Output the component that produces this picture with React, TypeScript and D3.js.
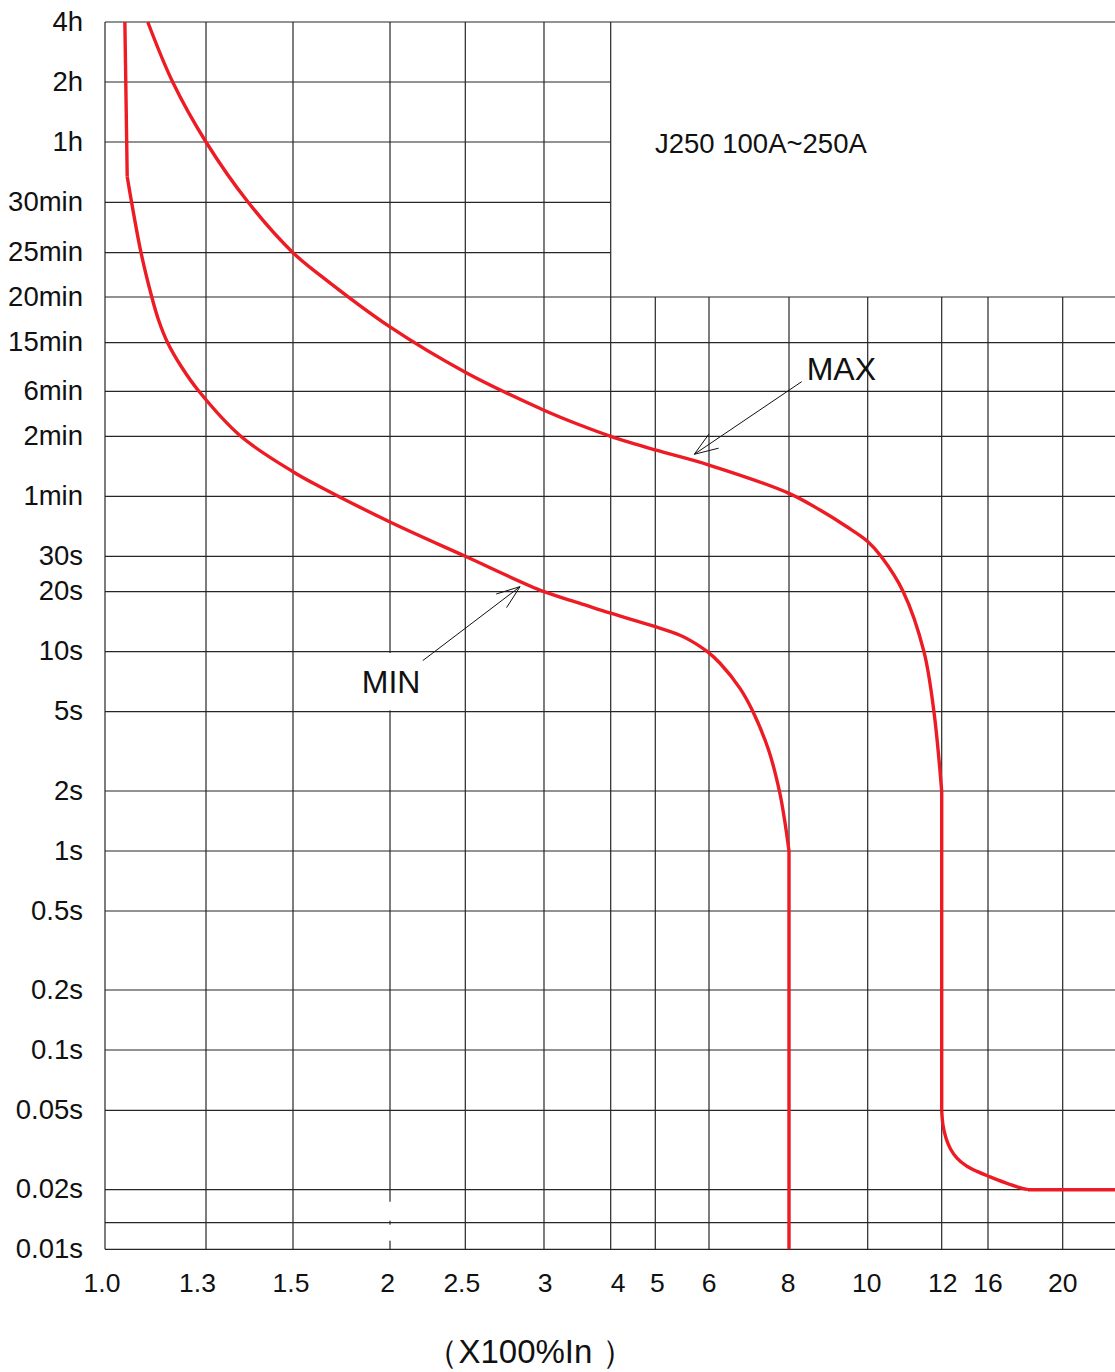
import React from "react";
import * as d3 from "d3";

// ---------- data ----------
const xTickValues = [1, 1.3, 1.5, 2, 2.5, 3, 4, 5, 6, 8, 10, 12, 16, 20];
const xTickLabels = ["1.0", "1.3", "1.5", "2", "2.5", "3", "4", "5", "6", "8", "10", "12", "16", "20"];
const yTickValues = [14400, 7200, 3600, 1800, 1500, 1200, 900, 360, 120, 60, 30, 20, 10, 5, 2, 1, 0.5, 0.2, 0.1, 0.05, 0.02, 0.01];
const yTickLabels = ["4h", "2h", "1h", "30min", "25min", "20min", "15min", "6min", "2min", "1min", "30s", "20s", "10s", "5s", "2s", "1s", "0.5s", "0.2s", "0.1s", "0.05s", "0.02s", "0.01s"];
const extraGridTimes = [0.0137];

// MIN curve (multiple of In, seconds)
const minTop: [number, number][] = [[1.059, 14400], [1.066, 2412]];
const minMain: [number, number][] = [
  [1.066, 2412], [1.079, 1800], [1.107, 1500], [1.139, 1200], [1.159, 1038], [1.186, 900],
  [1.227, 572], [1.279, 360], [1.38, 120], [1.5, 79.7], [1.639, 67], [2, 44.6], [2.5, 30],
  [3, 20], [3.54, 17.5], [4, 15.6], [5, 13.35], [5.46, 12.1], [5.65, 11.4],
  [5.97, 10], [6.275, 8.75], [6.775, 6.55], [7.1, 5], [7.49, 3.21], [7.76, 2],
  [7.89, 1.43], [8, 1],
];
const minBottom: [number, number][] = [[8, 1], [8, 0.01]];

// MAX curve
const maxMain: [number, number][] = [
  [1.127, 14400], [1.201, 7200], [1.3, 3600], [1.397, 1800], [1.5, 1500], [1.639, 1340],
  [2, 994], [2.5, 516], [3, 227], [3.54, 158],
  [4, 120], [5, 102.5], [6, 86.1], [8, 62.1], [8.79, 51.2], [9.47, 42.2], [10, 35.6],
  [10.36, 30], [10.96, 20], [11.52, 10], [11.79, 5], [12, 2],
];
const maxVertical: [number, number][] = [[12, 2], [12, 0.05]];
const maxTail: [number, number][] = [
  [12, 0.05], [12.11, 0.0422], [12.37, 0.0363], [12.76, 0.032], [13.32, 0.0288], [14.1, 0.0264],
  [15.05, 0.0247], [16.11, 0.0232], [16.91, 0.0217], [17.61, 0.0206], [18.14, 0.02],
];
const maxFlat: [number, number][] = [[18.14, 0.02], [22.8, 0.02]];

const annotationLabels = ["MAX", "MIN"];
const annotationX = [5.726, 2.848];
const annotationT = [97.5, 21.2];

const titleText = "J250 100A~250A";
const axisTitle = "（X100%In ）";

// ---------- layout ----------
const W = 1115;
const H = 1372;
const xEdge = 22.8;
const xPix = [105, 206, 293, 390, 465.3, 544, 610.7, 655.3, 709, 789, 867.7, 941.7, 988, 1062.7, 1115];
const yPix = [22, 82, 142, 202.3, 252.7, 297, 342.7, 391.3, 436.3, 496.3, 556.3, 591.7, 651.7, 711.7, 791, 851, 911, 990, 1050, 1110.3, 1189.7, 1222.7, 1249.3];
const xLabelDx = [-3, -8.5, -2, -2.5, -3.5, 1, 7.5, 2, 0, -1, -1, 1, 0, 0];
const boxSplitX = 4; // grid above 20min stops at x=4
const boxSplitT = 1200;
const annLineOffset = [[107.4, -72.6], [-97.3, 74]];
const annTextOffset = [[112.4, -74.3], [-158.3, 106.7]];
const RED = "#ed1c24";
const GRID = "#262626";
const FONT = "'Liberation Sans', Arial, sans-serif";

export default function App() {
  const yDomain = [...yTickValues, ...extraGridTimes].sort((a, b) => b - a);
  const x = d3.scaleLinear().domain([...xTickValues, xEdge]).range(xPix);
  const y = d3.scaleLog().domain(yDomain).range(yPix);

  const left = x(1);
  const right = x(xEdge);
  const top = y(14400);
  const bottom = y(0.01);

  const smooth = d3
    .line<[number, number]>()
    .x((d) => x(d[0]))
    .y((d) => y(d[1]))
    .curve(d3.curveCatmullRom.alpha(0.5));
  const straight = d3
    .line<[number, number]>()
    .x((d) => x(d[0]))
    .y((d) => y(d[1]));

  const hLines = yDomain.map((t) => {
    const x2 = t > boxSplitT ? x(boxSplitX) : right;
    return { y: y(t), x1: left, x2: t === 14400 ? right : x2 };
  });
  const vLines = xTickValues.map((v) => ({
    x: x(v),
    y1: v > boxSplitX ? y(boxSplitT) : top,
    y2: bottom,
  }));

  const curves = [
    straight(minTop),
    smooth(minMain),
    straight(minBottom),
    smooth(maxMain),
    straight(maxVertical),
    smooth(maxTail),
    straight(maxFlat),
  ];

  const anns = annotationLabels.map((label, i) => {
    const tx = x(annotationX[i]);
    const ty = y(annotationT[i]);
    const sx = tx + annLineOffset[i][0];
    const sy = ty + annLineOffset[i][1];
    const ang = Math.atan2(sy - ty, sx - tx);
    const a = (20 * Math.PI) / 180;
    const L = 25;
    const b1 = [tx + L * Math.cos(ang + a), ty + L * Math.sin(ang + a)];
    const b2 = [tx + L * Math.cos(ang - a), ty + L * Math.sin(ang - a)];
    return {
      label, tx, ty, sx, sy, b1, b2,
      textX: tx + annTextOffset[i][0],
      textY: ty + annTextOffset[i][1],
    };
  });

  const minAnn = anns[1];

  return (
    <svg
      width={W}
      height={H}
      style={{ position: "absolute", left: 0, top: 0, background: "#fff", fontFamily: FONT }}
    >
      <rect x={0} y={0} width={W} height={H} fill="#fff" />
      {/* grid */}
      <g stroke={GRID} strokeWidth={1.2}>
        {hLines.map((l, i) => (
          <line key={"h" + i} x1={l.x1} x2={l.x2} y1={l.y} y2={l.y} />
        ))}
        {vLines.map((l, i) => (
          <line key={"v" + i} x1={l.x} x2={l.x} y1={l.y1} y2={l.y2} />
        ))}
      </g>
      {/* small gap in the "2" gridline near the bottom */}
      <rect x={x(2) - 2} y={y(0.02) + 12} width={4} height={y(0.0137) - y(0.02) - 14} fill="#fff" />
      <rect x={x(2) - 2} y={y(0.0137) + 2} width={4} height={16} fill="#fff" />
      {/* white patch behind MIN label */}
      <rect
        x={minAnn.textX - 14}
        y={y(10) + 1.3}
        width={86}
        height={y(5) - y(10) - 2.6}
        fill="#fff"
      />
      {/* curves */}
      <g fill="none" stroke={RED} strokeWidth={3.4} strokeLinejoin="round">
        {curves.map((d, i) => (
          <path key={"c" + i} d={d || ""} />
        ))}
      </g>
      {/* annotations */}
      {anns.map((a, i) => (
        <g key={"a" + i}>
          <g stroke="#111" strokeWidth={1} fill="none">
            <line x1={a.sx} y1={a.sy} x2={a.tx} y2={a.ty} />
            <polyline points={`${a.b1[0]},${a.b1[1]} ${a.tx},${a.ty} ${a.b2[0]},${a.b2[1]}`} />
          </g>
          <text x={a.textX} y={a.textY} fontSize={32} fill="#111">
            {a.label}
          </text>
        </g>
      ))}
      {/* title */}
      <text x={655} y={153} fontSize={27.5} fill="#111">
        {titleText}
      </text>
      {/* y tick labels */}
      {yTickValues.map((t, i) => (
        <text
          key={"yl" + i}
          x={83}
          y={y(t) - 1}
          textAnchor="end"
          dominantBaseline="central"
          fontSize={27.5}
          fill="#111"
        >
          {yTickLabels[i]}
        </text>
      ))}
      {/* x tick labels */}
      {xTickValues.map((v, i) => (
        <text key={"xl" + i} x={x(v) + xLabelDx[i]} y={1292} textAnchor="middle" fontSize={26.5} fill="#111">
          {xTickLabels[i]}
        </text>
      ))}
      {/* axis title */}
      <text x={530} y={1363} textAnchor="middle" fontSize={33} fill="#111">
        {axisTitle}
      </text>
    </svg>
  );
}
